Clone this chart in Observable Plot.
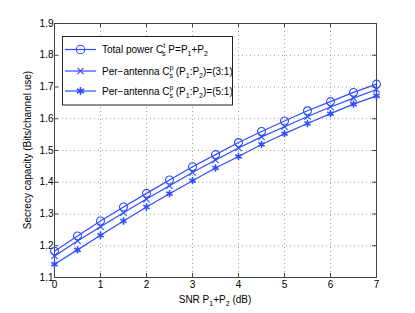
<!DOCTYPE html>
<html><head><meta charset="utf-8">
<script src="https://cdn.jsdelivr.net/npm/d3@7"></script>
<script src="https://cdn.jsdelivr.net/npm/@observablehq/plot@0.6"></script>
<style>body{margin:0;background:#fff;} svg{font-family:"Liberation Sans",Arial,sans-serif;}</style>
</head><body><div id="chart"></div>
<script>
const snr = [0,0.5,1,1.5,2,2.5,3,3.5,4,4.5,5,5.5,6,6.5,7];
const totalPower = [1.183,1.231,1.278,1.322,1.365,1.407,1.449,1.487,1.525,1.560,1.593,1.625,1.654,1.683,1.709];
const perAnt31 = [1.168,1.215,1.260,1.304,1.347,1.389,1.431,1.470,1.508,1.543,1.575,1.607,1.637,1.665,1.692];
const perAnt51 = [1.142,1.187,1.233,1.278,1.322,1.364,1.405,1.445,1.481,1.519,1.553,1.585,1.616,1.646,1.672];
const xTicks = [0,1,2,3,4,5,6,7];
const yTicks = [1.1,1.2,1.3,1.4,1.5,1.6,1.7,1.8,1.9];
const seriesNames = ["total","p31","p51"];
const seriesSymbols = ["circle","times","asterisk"];
const blue = "#2e4dff";

const rows = [];
[totalPower, perAnt31, perAnt51].forEach((arr, k) => arr.forEach((v, i) => rows.push({x: snr[i], y: v, s: seriesNames[k]})));

const sizeOf = s => s === "total" ? 4.2 : (s === "p51" ? 3.2 : 2.4);
const widthOf = s => s === "p51" ? 1.6 : 1.1;

const W = 415, H = 313;
const plot = Plot.plot({
  width: W, height: H,
  marginLeft: 54, marginRight: 39, marginTop: 23, marginBottom: 36,
  style: {fontSize: "10px", fontFamily: "Liberation Sans, Arial, sans-serif", color: "#000", background: "#fff"},
  x: {domain: [0, 7], ticks: xTicks, label: null},
  y: {domain: [1.1, 1.9], ticks: yTicks, label: null},
  symbol: {domain: seriesNames, range: seriesSymbols},
  marks: [
    Plot.gridX(xTicks, {stroke: "#999", strokeOpacity: 0.9, strokeDasharray: "1,3"}),
    Plot.gridY(yTicks, {stroke: "#999", strokeOpacity: 0.9, strokeDasharray: "1,3"}),
    Plot.axisX(xTicks, {tickSize: -4, tickPadding: 7, stroke: "#444", tickFormat: d => d3.format("d")(d)}),
    Plot.axisY(yTicks, {tickSize: -4, tickPadding: 5, stroke: "#444", tickFormat: d => d.toFixed(1)}),
    Plot.tickX(xTicks, {x: d => d, stroke: "#444", insetBottom: 250}),
    Plot.tickY(yTicks, {y: d => d, stroke: "#444", insetLeft: 318}),
    Plot.frame({stroke: "#444", strokeWidth: 1}),
    Plot.line(rows, {x: "x", y: "y", z: "s", stroke: blue, strokeWidth: 1.2}),
    Plot.dot(rows, {x: "x", y: "y", symbol: "s", stroke: blue, fill: d => d.s === "p51" ? blue : "none", r: d => sizeOf(d.s), strokeWidth: d => widthOf(d.s)}),
  ]
});

const svg = d3.select(plot);
// y axis label
svg.append("text").attr("transform", "translate(31,150) rotate(-90)").attr("text-anchor", "middle")
  .attr("font-size", 10).attr("fill", "#000").text("Secrecy capacity (Bits/channel use)");
// x axis label with subscripts
const xl = svg.append("text").attr("x", 215).attr("y", 303).attr("text-anchor", "middle").attr("font-size", 10).attr("fill", "#000");
xl.append("tspan").text("SNR P");
xl.append("tspan").attr("font-size", 7).attr("dy", 3).text("1");
xl.append("tspan").attr("dy", -3).text("+P");
xl.append("tspan").attr("font-size", 7).attr("dy", 3).text("2");
xl.append("tspan").attr("dy", -3).text(" (dB)");

// legend
const lg = svg.append("g").attr("text-anchor", "start");
lg.append("rect").attr("x", 62.5).attr("y", 36.5).attr("width", 170).attr("height", 68.5).attr("fill", "#fff").attr("stroke", "#222").attr("stroke-width", 1);
const entryY = [49.5, 71, 91];
const symMap = {circle: d3.symbolCircle, times: d3.symbolTimes, asterisk: d3.symbolAsterisk};
entryY.forEach((yy, k) => {
  const s = seriesNames[k];
  lg.append("line").attr("x1", 65).attr("x2", 96).attr("y1", yy).attr("y2", yy).attr("stroke", blue).attr("stroke-width", 1.2);
  const r = sizeOf(s);
  const area = seriesSymbols[k] === "circle" ? Math.PI * r * r : r * r * 4.5;
  lg.append("path").attr("d", d3.symbol(symMap[seriesSymbols[k]], area)())
    .attr("transform", `translate(80.5,${yy})`).attr("stroke", blue).attr("stroke-width", widthOf(s))
    .attr("fill", k === 2 ? blue : "none");
  const t = lg.append("text").attr("x", 102).attr("y", yy + 3.5).attr("font-size", 10).attr("fill", "#000").attr("text-anchor", "start");
  if (k === 0) {
    t.append("tspan").text("Total power C");
    t.append("tspan").attr("font-size", 7).attr("dy", -5).text("t");
    t.append("tspan").attr("font-size", 7).attr("dx", -3).attr("dy", 8).text("s");
    t.append("tspan").attr("dy", -3).text(" P=P");
    t.append("tspan").attr("font-size", 7).attr("dy", 3).text("1");
    t.append("tspan").attr("dy", -3).text("+P");
    t.append("tspan").attr("font-size", 7).attr("dy", 3).text("2");
  } else {
    t.append("tspan").text("Per\u2212antenna C");
    t.append("tspan").attr("font-size", 7).attr("dy", -5).text("p");
    t.append("tspan").attr("font-size", 7).attr("dx", -4).attr("dy", 8).text("s");
    t.append("tspan").attr("dy", -3).text(" (P");
    t.append("tspan").attr("font-size", 7).attr("dy", 3).text("1");
    t.append("tspan").attr("dy", -3).text(":P");
    t.append("tspan").attr("font-size", 7).attr("dy", 3).text("2");
    t.append("tspan").attr("dy", -3).text(k === 1 ? ")=(3:1)" : ")=(5:1)");
  }
});

document.getElementById("chart").appendChild(plot);
</script></body></html>
